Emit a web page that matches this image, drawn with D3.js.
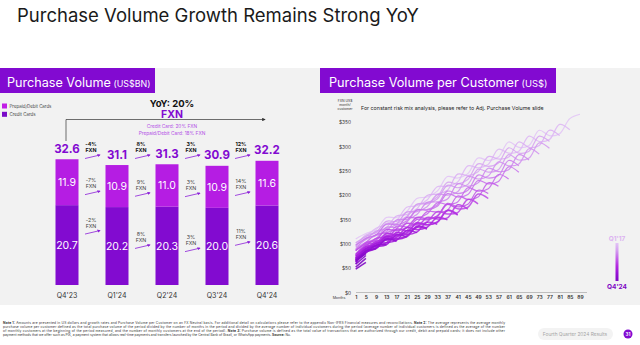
<!DOCTYPE html>
<html>
<head>
<meta charset="utf-8">
<script src="https://cdn.jsdelivr.net/npm/d3@7"></script>
<style>
  body { margin: 0; background: #fff; }
  svg { display: block; font-family: Inter, "Noto Sans", sans-serif; }
</style>
</head>
<body>
<script>
// ---- purchase volume (US$BN) ----
var quarters = ["Q4'23", "Q1'24", "Q2'24", "Q3'24", "Q4'24"];
var creditCards = [20.7, 20.2, 20.3, 20.0, 20.6];
var prepaidCards = [11.9, 10.9, 11.0, 10.9, 11.6];
var totals = [32.6, 31.1, 31.3, 30.9, 32.2];
var totalGrowth = ["-4%", "8%", "3%", "12%"];
var prepaidGrowth = ["-7%", "9%", "3%", "14%"];
var creditGrowth = ["-2%", "8%", "3%", "11%"];

// ---- purchase volume per customer, by cohort (US$ per month) ----
var cohorts = ["Q1'17","Q2'17","Q3'17","Q4'17","Q1'18","Q2'18","Q3'18","Q4'18",
               "Q1'19","Q2'19","Q3'19","Q4'19","Q1'20","Q2'20","Q3'20","Q4'20",
               "Q1'21","Q2'21","Q3'21","Q4'21","Q1'22","Q2'22","Q3'22","Q4'22",
               "Q1'23","Q2'23","Q3'23","Q4'23","Q1'24","Q2'24","Q3'24","Q4'24"];
var monthTicks = [1,5,9,13,17,21,25,29,33,37,41,45,49,53,57,61,65,69,73,77,81,85,89];
var dollarTicks = [0,50,100,150,200,250,300,350];
// one value per month in monthTicks, oldest cohort first
var cohortValues = [
  [110,121,129,154,154,166,193,196,208,238,235,244,276,271,278,309,298,302,333,322,326,357,366],
  [101,115,132,139,148,175,178,190,217,218,227,260,256,263,294,286,290,321,310,314,345,334],
  [95,118,123,133,157,160,172,199,202,210,243,240,248,279,274,278,309,298,302,333,322],
  [98,109,117,142,142,154,181,184,196,226,223,232,264,259,266,297,286,290,321,310],
  [102,115,123,146,146,156,181,182,192,220,215,222,253,247,252,283,272,276,307,296],
  [93,109,126,131,140,165,166,176,201,200,207,238,233,239,268,260,264,295,284],
  [87,112,117,125,149,150,160,185,186,192,223,218,225,255,248,252,283,272],
  [90,103,111,134,134,144,169,170,180,208,203,210,241,235,240,271,260],
  [97,111,118,140,139,147,170,169,177,203,196,201,230,223,228,258,247],
  [86,103,119,123,131,154,153,161,184,181,186,215,208,213,242,233],
  [76,102,106,113,136,135,143,166,165,169,198,191,196,225,218],
  [77,91,98,120,119,127,150,149,157,183,176,181,210,203],
  [86,101,108,129,127,133,154,151,157,181,172,175,202,193],
  [77,95,111,114,121,142,139,145,166,161,164,191,182],
  [71,98,102,108,130,127,133,154,151,153,180,171],
  [74,89,96,117,115,121,142,139,145,169,160],
  [79,94,101,121,118,123,143,139,144,168,159],
  [71,89,105,107,113,133,129,134,154,149],
  [66,93,97,102,123,119,124,144,140],
  [70,85,92,112,109,114,134,130],
  [74,89,96,115,111,116,136,132],
  [67,85,101,102,107,127,123],
  [63,90,94,98,118,114],
  [68,83,90,109,105],
  [69,84,91,110,106],
  [63,81,97,98],
  [59,86,90],
  [65,80],
  [66,81],
  [58,76],
  [52,70],
  [48,62]
];

var notes = [
  [["Note 1: ", 1], ["Amounts are presented in US dollars and growth rates and Purchase Volume per Customer on an FX Neutral basis. For additional detail on calculations please refer to the appendix Non-IFRS Financial measures and reconciliations. ", 0], ["Note 2: ", 1], ["The average represents the average monthly", 0]],
  [["purchase volume per customer defined as the total purchase volume of the period divided by the number of months in the period and divided by the average number of individual customers during the period (average number of individual customers is defined as the average of the number", 0]],
  [["of monthly customers at the beginning of the period measured, and the number of monthly customers at the end of the period). ", 0], ["Note 3: ", 1], ["Purchase volume is defined as the total value of transactions that are authorized through our credit, debit and prepaid cards; it does not include other", 0]],
  [["payment methods that we offer such as PIX, a payment system that allows real-time payments and transfers launched by the Central Bank of Brazil, or WhatsApp payments. ", 0], ["Source: ", 1], ["Nu.", 0]]
];

var purple = "#820ad1";
var rampColors = ["#e2c4f6", "#d49ef0", "#c463ea", "#b42ae2", "#9612d6", "#7e07c4"];
var ramp = d3.interpolateRgbBasis(rampColors);

var svg = d3.select("body").append("svg")
    .attr("width", 640)
    .attr("height", 345);

var defs = svg.append("defs");
defs.append("marker")
    .attr("id", "headP")
    .attr("viewBox", "0 0 10 10")
    .attr("refX", 8).attr("refY", 5)
    .attr("markerWidth", 4).attr("markerHeight", 4)
    .attr("orient", "auto")
  .append("path")
    .attr("d", "M0,0L10,5L0,10z")
    .attr("fill", "#8b1ed8");
defs.append("marker")
    .attr("id", "headK")
    .attr("viewBox", "0 0 10 10")
    .attr("refX", 8).attr("refY", 5)
    .attr("markerWidth", 5).attr("markerHeight", 5)
    .attr("orient", "auto")
  .append("path")
    .attr("d", "M0,0L10,5L0,10z")
    .attr("fill", "#333");

var grad = defs.append("linearGradient")
    .attr("id", "cohortRamp")
    .attr("x1", 0).attr("y1", 0).attr("x2", 0).attr("y2", 1);
rampColors.forEach(function(c, i) {
  grad.append("stop")
    .attr("offset", (i / (rampColors.length - 1) * 100) + "%")
    .attr("stop-color", c);
});

// title
svg.append("text")
    .attr("x", 17).attr("y", 22)
    .style("font-size", "18.5px")
    .style("fill", "#1a1a1a")
    .text("Purchase Volume Growth Remains Strong YoY");

// panel background
svg.append("rect")
    .attr("x", 0).attr("y", 68)
    .attr("width", 640).attr("height", 237)
    .attr("fill", "#f2f2f2");

// panel headers
svg.append("rect").attr("x", 0).attr("y", 68).attr("width", 155).attr("height", 25).attr("fill", purple);
svg.append("rect").attr("x", 320).attr("y", 68).attr("width", 236).attr("height", 25).attr("fill", purple);

// size a text so its natural width comes out at `target`
function fitText(sel, size, target) {
  sel.style("font-size", size + "px");
  var w = sel.node().getComputedTextLength();
  sel.style("font-size", (size * target / w) + "px");
  return sel;
}

function header(x, main, mainLen, unit, unitLen) {
  var m = svg.append("text").attr("x", x).attr("y", 86.5)
      .style("fill", "#fff").text(main);
  fitText(m, 14, mainLen);
  var u = svg.append("text").attr("x", x + mainLen + 2.5).attr("y", 86.5)
      .style("fill", "#fff").text(unit);
  fitText(u, 9.5, unitLen);
}
header(7, "Purchase Volume", 104, "(US$BN)", 37);
header(329, "Purchase Volume per Customer", 190, "(US$)", 26);

// ================= left: stacked bars =================
var left = svg.append("g");

var xBand = d3.scaleBand()
    .domain(quarters)
    .range([42, 292])
    .paddingInner(0.54)
    .paddingOuter(0.27);

var yBar = d3.scaleLinear()
    .domain([0, 35])
    .range([285, 150]);

var bw = xBand.bandwidth();
function cx(i) { return xBand(quarters[i]) + bw / 2; }

// legend
var legend = [["Prepaid/Debit Cards", "#c21ee6"], ["Credit Cards", "#7a0bc8"]];
legend.forEach(function(l, i) {
  left.append("rect").attr("x", 2).attr("y", 103.5 + i * 8.3).attr("width", 5).attr("height", 5).attr("fill", l[1]);
  left.append("text").attr("x", 9.5).attr("y", 107.6 + i * 8.3)
      .style("font-size", "4.4px").style("fill", "#444").text(l[0]);
});

left.append("text").attr("x", 172).attr("y", 107.3).attr("text-anchor", "middle")
    .style("font-size", "9.5px").style("font-weight", 700).style("fill", "#111").text("YoY: 20%");
left.append("text").attr("x", 172).attr("y", 118.2).attr("text-anchor", "middle")
    .style("font-size", "10.5px").style("font-weight", 700).style("fill", purple).text("FXN");
left.append("text").attr("x", 172).attr("y", 128).attr("text-anchor", "middle")
    .style("font-size", "4.8px").style("fill", "#b24ee6").text("Credit Card: 20% FXN");
left.append("text").attr("x", 172).attr("y", 135).attr("text-anchor", "middle")
    .style("font-size", "4.8px").style("fill", "#b24ee6").text("Prepaid/Debit Card: 18% FXN");

// bracket arrow from the first bar across the period
left.append("path")
    .attr("d", "M" + (cx(0) - 1) + ",141V119.5H265")
    .attr("fill", "none")
    .attr("stroke", "#333")
    .attr("stroke-width", 0.7)
    .attr("marker-end", "url(#headK)");

// credit segment (bottom)
left.selectAll(".credit")
  .data(creditCards)
  .enter().append("rect")
    .attr("class", "credit")
    .attr("x", function(d, i) { return xBand(quarters[i]); })
    .attr("y", function(d) { return yBar(d); })
    .attr("width", bw)
    .attr("height", function(d) { return yBar(0) - yBar(d); })
    .attr("fill", "#820bd0");

// prepaid segment (top)
left.selectAll(".prepaid")
  .data(prepaidCards)
  .enter().append("rect")
    .attr("class", "prepaid")
    .attr("x", function(d, i) { return xBand(quarters[i]); })
    .attr("y", function(d, i) { return yBar(creditCards[i] + d); })
    .attr("width", bw)
    .attr("height", function(d) { return yBar(0) - yBar(d); })
    .attr("fill", "#b51de3");

left.selectAll(".creditLbl")
  .data(creditCards)
  .enter().append("text")
    .attr("x", function(d, i) { return cx(i); })
    .attr("y", function(d) { return (yBar(d) + yBar(0)) / 2 + 3.8; })
    .attr("text-anchor", "middle")
    .style("font-size", "10.5px")
    .style("fill", "#fff")
    .text(function(d) { return d.toFixed(1); });

left.selectAll(".prepaidLbl")
  .data(prepaidCards)
  .enter().append("text")
    .attr("x", function(d, i) { return cx(i); })
    .attr("y", function(d, i) { return (yBar(creditCards[i] + d) + yBar(creditCards[i])) / 2 + 3.8; })
    .attr("text-anchor", "middle")
    .style("font-size", "10.5px")
    .style("fill", "#fff")
    .text(function(d) { return d.toFixed(1); });

left.selectAll(".totalLbl")
  .data(totals)
  .enter().append("text")
    .attr("x", function(d, i) { return cx(i); })
    .attr("y", function(d) { return yBar(d) - 6.5; })
    .attr("text-anchor", "middle")
    .style("font-size", "11.5px")
    .style("font-weight", 700)
    .style("fill", purple)
    .text(function(d) { return d.toFixed(1); });

left.selectAll(".qLbl")
  .data(quarters)
  .enter().append("text")
    .attr("x", function(d, i) { return cx(i); })
    .attr("y", 297.5)
    .attr("text-anchor", "middle")
    .style("font-size", "7px")
    .style("fill", "#333")
    .text(function(d) { return d; });

// growth notes between bars
function growthNotes(labels, yOf, bold) {
  labels.forEach(function(lbl, k) {
    var gx = (cx(k) + cx(k + 1)) / 2;
    var yb = yOf(k);
    var g = left.append("g");
    g.append("text").attr("x", gx - 1).attr("y", yb).attr("text-anchor", "middle")
        .style("font-size", "5.3px").style("font-weight", bold ? 700 : 400)
        .style("fill", bold ? "#111" : "#444").text(lbl);
    g.append("text").attr("x", gx - 1).attr("y", yb + 6).attr("text-anchor", "middle")
        .style("font-size", "5.3px").style("font-weight", bold ? 700 : 400)
        .style("fill", bold ? "#111" : "#444").text("FXN");
    g.append("line")
        .attr("x1", gx - 7).attr("y1", yb + 12.5)
        .attr("x2", gx + 8).attr("y2", yb + 9)
        .attr("stroke", "#8b1ed8").attr("stroke-width", 0.8)
        .attr("marker-end", "url(#headP)");
  });
}

function prepaidMid(i) { return (yBar(creditCards[i] + prepaidCards[i]) + yBar(creditCards[i])) / 2; }
function creditMid(i) { return (yBar(creditCards[i]) + yBar(0)) / 2; }
var creditNudge = [-14, 0, 3, -3];

growthNotes(totalGrowth, function() { return 146; }, true);
growthNotes(prepaidGrowth, function(k) { return (prepaidMid(k) + prepaidMid(k + 1)) / 2 - 2; }, false);
growthNotes(creditGrowth, function(k) { return (creditMid(k) + creditMid(k + 1)) / 2 - 10 + creditNudge[k]; }, false);

// ================= right: cohort lines =================
var right = svg.append("g");

var xM = d3.scaleLinear()
    .domain([1, 89])
    .range([355.7, 580]);

var yD = d3.scaleLinear()
    .domain([0, 350])
    .range([292.5, 122]);

right.append("text").attr("x", 361).attr("y", 109.5)
    .style("font-size", "5.3px").style("fill", "#222")
    .text("For constant risk mix analysis, please refer to Adj. Purchase Volume slide");

["FXN US$", "month/", "customer"].forEach(function(t, i) {
  right.append("text").attr("x", 345).attr("y", 101.5 + i * 4.1).attr("text-anchor", "middle")
      .style("font-size", "3.4px").style("fill", "#333").text(t);
});

var yAxis = d3.axisLeft(yD)
    .tickValues(dollarTicks)
    .tickSize(0)
    .tickPadding(0)
    .tickFormat(function(d) { return "$" + d; });

right.append("g")
    .attr("transform", "translate(351,0)")
    .call(yAxis)
    .call(function(g) { g.select(".domain").remove(); })
    .selectAll("text")
    .attr("dy", "0.35em")
    .style("font-family", "Inter, 'Noto Sans', sans-serif")
    .style("font-size", "4.8px")
    .style("fill", "#333");

right.append("line")
    .attr("x1", 356).attr("x2", 587)
    .attr("y1", yD(0)).attr("y2", yD(0))
    .attr("stroke", "#9a9a9a").attr("stroke-width", 0.6);

var xAxis = d3.axisBottom(xM)
    .tickValues(monthTicks)
    .tickSize(0)
    .tickPadding(0)
    .tickFormat(d3.format("d"));

right.append("g")
    .attr("transform", "translate(0,297)")
    .call(xAxis)
    .call(function(g) { g.select(".domain").remove(); })
    .selectAll("text")
    .attr("dy", "0.35em")
    .style("font-family", "Inter, 'Noto Sans', sans-serif")
    .style("font-size", "5px")
    .style("font-weight", 600)
    .style("fill", "#333");

right.append("text").attr("x", 339).attr("y", 299)
    .attr("text-anchor", "middle")
    .style("font-size", "3.6px").style("fill", "#333").text("Months");

var cohortLine = d3.line()
    .x(function(d, k) { return xM(monthTicks[k]); })
    .y(function(d) { return yD(d); })
    .curve(d3.curveCatmullRom.alpha(0.5));

// newer cohorts are drawn last, on top; darker colours set in a little earlier than linear
right.selectAll(".cohort")
  .data(cohortValues)
  .enter().append("path")
    .attr("class", "cohort")
    .attr("d", cohortLine)
    .attr("fill", "none")
    .attr("stroke", function(d, i) { return ramp(Math.pow(i / (cohorts.length - 1), 0.8)); })
    .attr("stroke-width", function(d, i) { return i < 12 ? 1.2 : 1.5; })
    .attr("stroke-opacity", 0.9)
    .attr("stroke-linejoin", "round");

// cohort colour key
right.append("rect")
    .attr("x", 615.5).attr("y", 243)
    .attr("width", 3).attr("height", 38)
    .attr("fill", "url(#cohortRamp)");
right.append("text").attr("x", 617).attr("y", 240.5).attr("text-anchor", "middle")
    .style("font-size", "6.5px").style("font-weight", 700).style("fill", "#dcb3f1").text(cohorts[0]);
right.append("text").attr("x", 617).attr("y", 289).attr("text-anchor", "middle")
    .style("font-size", "6.5px").style("font-weight", 700).style("fill", "#7e07c4").text(cohorts[cohorts.length - 1]);

// ================= footer =================
var foot = svg.append("g");
notes.forEach(function(line, i) {
  var t = foot.append("text")
      .attr("x", 3).attr("y", 324 + i * 4)
      .style("font-size", "3.3px").style("fill", "#333");
  if (i < notes.length - 1) t.attr("textLength", 502).attr("lengthAdjust", "spacing");
  line.forEach(function(run) {
    t.append("tspan").style("font-weight", run[1] ? 700 : 400).text(run[0]);
  });
});

foot.append("rect")
    .attr("x", 538).attr("y", 328).attr("width", 75).attr("height", 12).attr("rx", 6)
    .attr("fill", "#f3f3f3");
foot.append("text").attr("x", 575).attr("y", 335.7).attr("text-anchor", "middle")
    .style("font-size", "4.8px").style("fill", "#a5a5a5").text("Fourth Quarter 2024 Results");
foot.append("circle").attr("cx", 628).attr("cy", 334).attr("r", 4.5).attr("fill", purple);
foot.append("text").attr("x", 628).attr("y", 335.6).attr("text-anchor", "middle")
    .style("font-size", "4.5px").style("font-weight", 700).style("fill", "#fff").text("31");
</script>
</body>
</html>
